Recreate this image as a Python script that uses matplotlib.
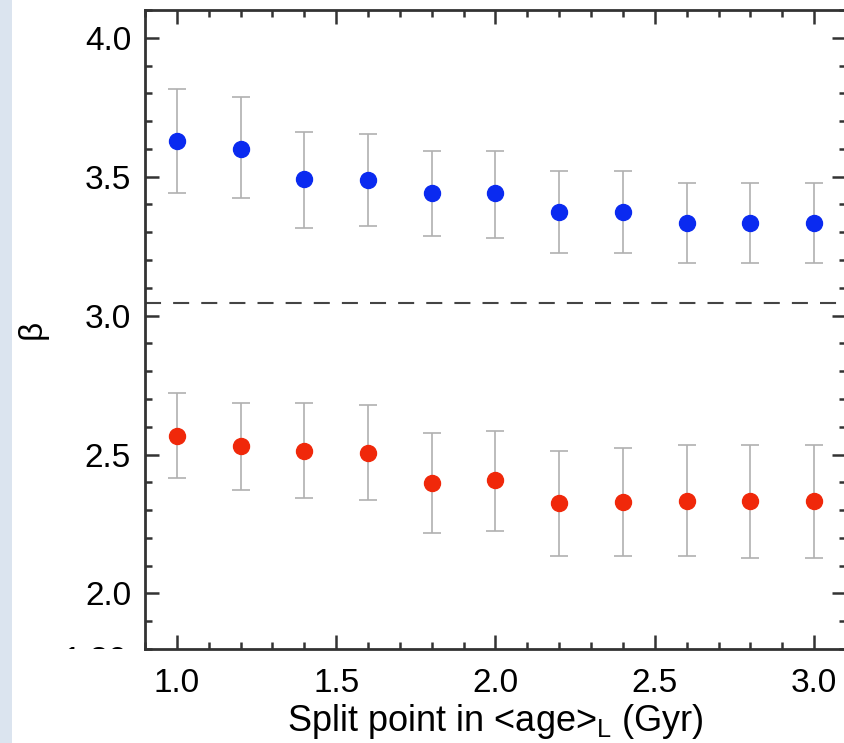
import matplotlib
matplotlib.use("Agg")
import matplotlib.pyplot as plt
from matplotlib.patches import Rectangle
from matplotlib.transforms import Bbox
import numpy as np

plt.rcParams['font.family'] = ['Liberation Sans', 'DejaVu Sans']
plt.rcParams['mathtext.default'] = 'regular'

# split points (Gyr)
split = [1.0, 1.2, 1.4, 1.6, 1.8, 2.0, 2.2, 2.4, 2.6, 2.8, 3.0]

# upper group (blue)
beta_hi = [3.627, 3.601, 3.490, 3.487, 3.440, 3.440, 3.372, 3.372, 3.332, 3.332, 3.332]
beta_hi_up = [3.817, 3.788, 3.662, 3.655, 3.594, 3.591, 3.519, 3.519, 3.476, 3.476, 3.476]
beta_hi_lo = [3.440, 3.422, 3.314, 3.321, 3.285, 3.278, 3.224, 3.224, 3.189, 3.189, 3.189]

# lower group (red)
beta_lo = [2.567, 2.531, 2.513, 2.506, 2.399, 2.409, 2.327, 2.330, 2.334, 2.334, 2.334]
beta_lo_up = [2.722, 2.686, 2.686, 2.679, 2.578, 2.585, 2.513, 2.524, 2.535, 2.535, 2.535]
beta_lo_lo = [2.416, 2.373, 2.345, 2.338, 2.219, 2.226, 2.136, 2.136, 2.136, 2.129, 2.129]

ref_beta = 3.045

fig = plt.figure(figsize=(8.45, 7.43), dpi=100)
ax = fig.add_axes([145/845, 94/743, 701/845, 639/743])

# light strip on the left edge
fig.patches.append(Rectangle((0, 0), 12/845, 1, transform=fig.transFigure,
                             facecolor='#dbe4ef', edgecolor='none', zorder=-1))

def draw(y, up, lo, col):
    y = np.array(y)
    err = [y - np.array(lo), np.array(up) - y]
    ax.errorbar(split, y, yerr=err, fmt='o', color=col, ms=11.5, mec=col,
                ecolor='#b0b0b0', elinewidth=1.2, capsize=6.5, capthick=1.2, zorder=3)

draw(beta_hi, beta_hi_up, beta_hi_lo, '#0a2af0')
draw(beta_lo, beta_lo_up, beta_lo_lo, '#f0280a')

ax.axhline(ref_beta, color='#444444', lw=1.5, dashes=(7.7, 5.8), zorder=2)

ax.set_xlim(0.9, 3.1)
ax.set_ylim(1.8, 4.1)
ax.set_xticks([1.0, 1.5, 2.0, 2.5, 3.0])
ax.set_yticks([2.0, 2.5, 3.0, 3.5, 4.0])
ax.set_xticks(np.arange(0.9, 3.11, 0.1), minor=True)
ax.set_yticks(np.arange(1.8, 4.11, 0.1), minor=True)
ax.tick_params(which='both', direction='in', top=True, right=True, colors='#333333',
               labelcolor='black', labelsize=24)
ax.tick_params(which='major', length=10, width=1.8)
ax.tick_params(which='minor', length=5, width=1.8)
ax.tick_params(axis='y', pad=10)
ax.tick_params(axis='x', pad=14)
for s in ax.spines.values():
    s.set_linewidth(2)
    s.set_color('#333333')

ax.set_xlabel(r"Split point in <age>$_{L}$ (Gyr)", fontsize=26, labelpad=2)
ax.set_ylabel("β", fontsize=24, labelpad=27)

# partly hidden bottom label
t = fig.text(95/845, 1 - 661/743, "1.80", fontsize=24, ha='center', va='center')
t.set_clip_box(Bbox.from_extents(0, 743 - 649, 845, 743))

fig.savefig("out.png", dpi=100)
